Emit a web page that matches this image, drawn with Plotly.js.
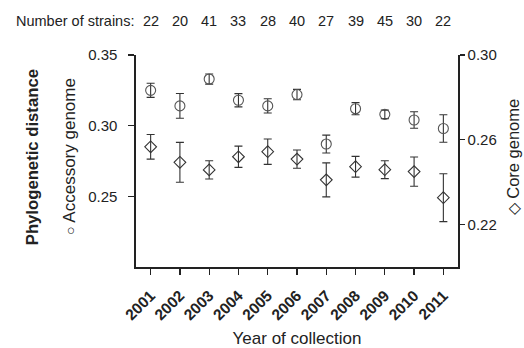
<!DOCTYPE html>
<html>
<head>
<meta charset="utf-8">
<script src="https://cdn.plot.ly/plotly-3.0.1.min.js"></script>
<style>html,body{margin:0;padding:0;background:#fff;}#chart{width:524px;height:348px;}</style>
</head>
<body>
<div id="chart"></div>
<script>
const years = [2001, 2002, 2003, 2004, 2005, 2006, 2007, 2008, 2009, 2010, 2011];
const strains = [22, 20, 41, 33, 28, 40, 27, 39, 45, 30, 22];
const accessoryMean = [0.325, 0.314, 0.333, 0.318, 0.314, 0.322, 0.287, 0.312, 0.308, 0.304, 0.298];
const accessoryErr = [0.005, 0.0088, 0.0036, 0.0047, 0.005, 0.0037, 0.0063, 0.0043, 0.003, 0.0058, 0.0097];
const coreMean = [0.2567, 0.2494, 0.2458, 0.2520, 0.2544, 0.2509, 0.2411, 0.2473, 0.2459, 0.2450, 0.2327];
const coreErr = [0.0058, 0.0094, 0.0043, 0.005, 0.006, 0.0043, 0.008, 0.0049, 0.0042, 0.0069, 0.0113];
const leftTicks = [0.25, 0.30, 0.35];
const rightTicks = [0.22, 0.26, 0.30];

const FONT = 'Liberation Sans, Arial, sans-serif';
const INK = '#222';

const traces = [
  {
    x: years, y: accessoryMean, type: 'scatter', mode: 'markers', yaxis: 'y',
    marker: {symbol: 'circle-open', size: 10, color: '#555', line: {width: 1.1, color: '#555'}},
    error_y: {type: 'data', array: accessoryErr, visible: true, color: '#333', thickness: 1.1, width: 4},
    showlegend: false, hoverinfo: 'skip'
  },
  {
    x: years, y: coreMean, type: 'scatter', mode: 'markers', yaxis: 'y2',
    marker: {symbol: 'diamond-open', size: 9, color: '#333', line: {width: 1.1, color: '#333'}},
    error_y: {type: 'data', array: coreErr, visible: true, color: '#333', thickness: 1.1, width: 4},
    showlegend: false, hoverinfo: 'skip'
  }
];

const annotations = [
  {xref: 'paper', yref: 'paper', x: 0, y: 1.16, xanchor: 'right', yanchor: 'middle',
   text: 'Number of strains:', showarrow: false, font: {family: FONT, size: 14.5, color: INK}}
];
strains.forEach((n, i) => annotations.push({
  xref: 'x', yref: 'paper', x: years[i], y: 1.16, xanchor: 'center', yanchor: 'middle',
  text: String(n), showarrow: false, font: {family: FONT, size: 14.5, color: INK}
}));
annotations.push(
  {xref: 'paper', yref: 'paper', x: -0.321, y: 0.516, xanchor: 'center', yanchor: 'middle', textangle: -90,
   text: '<b>Phylogenetic distance</b>', showarrow: false, font: {family: FONT, size: 16.7, color: INK}},
  {xref: 'paper', yref: 'paper', x: -0.205, y: 0.524, xanchor: 'center', yanchor: 'middle', textangle: -90,
   text: '<span style="font-size:14px">○</span> Accessory genome', showarrow: false, font: {family: FONT, size: 17, color: INK}},
  {xref: 'paper', yref: 'paper', x: 1.172, y: 0.519, xanchor: 'center', yanchor: 'middle', textangle: -90,
   text: '<span style="font-size:16px">◇</span> Core genome', showarrow: false, font: {family: FONT, size: 16.5, color: INK}}
);

const layout = {
  width: 524, height: 348,
  margin: {l: 136, r: 66, t: 55, b: 81, pad: 0},
  paper_bgcolor: '#fff', plot_bgcolor: '#fff',
  font: {family: FONT, color: INK},
  showlegend: false,
  xaxis: {
    range: [2000.5, 2011.5], tickvals: years, ticktext: years.map(y => '<b>' + y + '</b>'),
    tickangle: -45, tickfont: {family: FONT, size: 15.5, color: INK},
    ticks: 'outside', ticklen: 6, tickwidth: 1.3, tickcolor: INK, ticklabelstandoff: 6,
    showline: true, linecolor: INK, linewidth: 1.6, showgrid: false, zeroline: false,
    title: {text: 'Year of collection', font: {family: FONT, size: 17, color: INK}, standoff: 12}
  },
  yaxis: {
    range: [0.20, 0.35], tickvals: leftTicks, tickformat: '.2f',
    tickfont: {family: FONT, size: 15, color: INK},
    ticks: 'outside', ticklen: 6, tickwidth: 1.3, tickcolor: INK, ticklabelstandoff: 8,
    showline: true, linecolor: INK, linewidth: 1.6, showgrid: false, zeroline: false
  },
  yaxis2: {
    range: [0.20, 0.30], tickvals: rightTicks, tickformat: '.2f', overlaying: 'y', side: 'right',
    tickfont: {family: FONT, size: 15, color: INK},
    ticks: 'outside', ticklen: 5, tickwidth: 1.3, tickcolor: INK,
    showline: true, linecolor: INK, linewidth: 1.6, showgrid: false, zeroline: false
  },
  annotations: annotations
};

Plotly.newPlot('chart', traces, layout, {staticPlot: true, displayModeBar: false});
</script>
</body>
</html>
